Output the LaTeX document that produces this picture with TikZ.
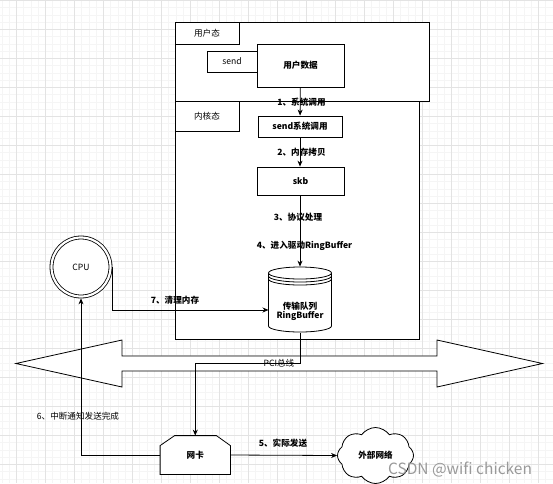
\documentclass[tikz,border=0pt]{standalone}
\usepackage{fontspec}
\setmainfont{Noto Sans CJK SC}
\usetikzlibrary{arrows.meta,shapes.symbols}

\tikzset{
    box/.style={draw, fill=white, inner sep=0pt},
    arr/.style={-{Stealth[length=6pt,width=5pt]}},
    tag/.style={font=\fontsize{8.6}{10}\selectfont\bfseries},
    minorline/.style={black!4, line width=0.6pt},
    majorline/.style={black!11, line width=0.6pt},
}

\begin{document}
\begin{tikzpicture}[x=1pt, y=-1pt, line width=0.8pt, font=\fontsize{8.6}{10}\selectfont]
        \useasboundingbox (0,0) rectangle (553,483);
        % grid
        \foreach \i in {-2,...,76} \draw[minorline] ({16.3+7.25*\i},0) -- ({16.3+7.25*\i},483);
        \foreach \i in {0,...,66} \draw[minorline] (0,{0.3+7.25*\i}) -- (553,{0.3+7.25*\i});
        \foreach \i in {0,...,19} \draw[majorline] ({16.3+29*\i},0) -- ({16.3+29*\i},483);
        \foreach \i in {0,...,16} \draw[majorline] (0,{0.3+29*\i}) -- (553,{0.3+29*\i});

        % user space
        \node[box, minimum width=254pt, minimum height=79pt] (user) at (302,61.5) {};
        \node[box, anchor=north west, minimum width=64pt, minimum height=22pt] (ulbl) at (user.north west) {用户态};
        \node[box, minimum width=50pt, minimum height=21pt] (send) at (232,61.5) {send};
        \node[box, tag, minimum width=87pt, minimum height=43pt] (data) at (300.5,65.5) {用户数据};

        % kernel space
        \node[box, minimum width=244pt, minimum height=238pt] (kern) at (297,220) {};
        \node[box, anchor=north west, minimum width=64pt, minimum height=30pt] (klbl) at (kern.north west) {内核态};
        \node[box, tag, minimum width=84pt, minimum height=21pt] (sys) at (300,126.5) {send系统调用};
        \node[box, tag, minimum width=87pt, minimum height=28pt] (skb) at (300.5,181) {skb};

        % ring buffer
        \node[minimum width=63pt, minimum height=66pt, inner sep=0pt] (rb) at (300,300) {};
        \draw[fill=white] (268.5,273) -- (268.5,326) arc[start angle=180, end angle=0, x radius=31.5, y radius=6] -- (331.5,273);
        \draw[fill=white] (300,273) ellipse [x radius=31.5, y radius=6];
        \draw (331.5,276) arc[start angle=0, end angle=180, x radius=31.5, y radius=6];
        \draw (331.5,279) arc[start angle=0, end angle=180, x radius=31.5, y radius=6];
        \node[tag, align=center, inner sep=0pt] (rbtxt) at (300,311) {传输队列\\[-1pt]RingBuffer};

        % PCI bus
        \draw[fill=white] (16,363.5) -- (122,340) -- (122,356) -- (437,356) -- (437,340) -- (542.5,363.5)
              -- (437,387) -- (437,371) -- (122,371) -- (122,387) -- cycle;
        \node[inner sep=0pt] (bus) at (279,363.5) {PCI总线};

        \node[circle, draw, double, double distance=2.2pt, fill=white, minimum size=59pt, inner sep=0pt, outer sep=1.9pt] (cpu) at (81,267) {CPU};

        \node[minimum width=69.5pt, minimum height=38pt, inner sep=0pt] (nic) at (195.25,455) {};
        \draw[fill=white] ([xshift=14.5pt]nic.north west) -- ([xshift=-14pt]nic.north east) -- ([yshift=-10pt]nic.north east)
              -- (nic.south east) -- (nic.south west) -- ([yshift=-10pt]nic.north west) -- cycle;
        \node[tag] (nictxt) at (nic) {网卡};

        \node[cloud, draw, fill=white, cloud puffs=8, cloud puff arc=110, aspect=1.4, minimum width=76pt, minimum height=56pt, inner sep=0pt, tag] (net) at (375.5,455.5) {外部网络};

        % edges
        \draw[arr] (data) -- (sys);
        \draw[arr] (sys) -- (skb.north -| sys.south);
        \draw[arr] (skb.south -| rb.north) -- (rb.north);
        \coordinate (c7) at (268.5,310);
        \draw[arr] (cpu.east) |- (c7);
        \draw[arr] (rb.south) |- (nic.north |- bus.center) -- (nic.north);
        \draw[arr] (nic.east) -- (net.west);
        \draw[arr] (nic.west) -| (cpu.south);

        \node[tag] (l1) at (301.5,102) {1、系统调用};
        \node[tag] (l2) at (301.5,152) {2、内存拷贝};
        \node[tag] (l3) at (298,217) {3、协议处理};
        \node[tag] (l4) at (304.5,246) {4、进入驱动RingBuffer};
        \node[tag] (l5) at (283,443) {5、实际发送};
        \node (l6) at (78,416) {6、中断通知发送完成};
        \node[tag] (l7) at (175,300) {7、清理内存};

        \node[black!40, font=\fontsize{15.5}{17}\selectfont] (wm) at (460,470) {CSDN @wifi chicken};
    \end{tikzpicture}
\end{document}
